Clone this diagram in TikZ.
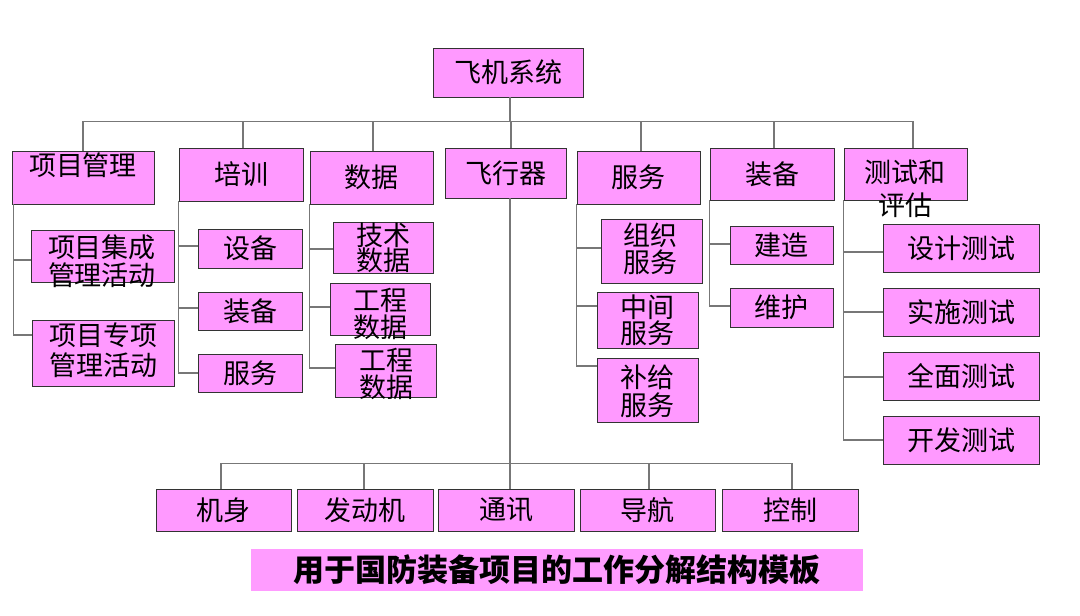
\documentclass[tikz,border=0pt]{standalone}
\usepackage{fontspec}
\setmainfont{Noto Sans CJK SC}
\definecolor{boxpink}{HTML}{FF99FF}
\definecolor{titlepink}{HTML}{FF9CFF}
\definecolor{linegray}{HTML}{777777}
\definecolor{edgegray}{HTML}{333333}
\tikzset{
  box/.style={draw=edgegray, line width=0.9pt, fill=boxpink, inner sep=0pt,
    font=\fontsize{27}{28}\selectfont},
  txt/.style={inner sep=0pt, align=center, font=\fontsize{27}{#1}\selectfont},
  txt/.default=27,
  conn/.style={draw=linegray, line width=1.2pt},
  titlebox/.style={fill=titlepink, draw=none, inner sep=0pt,
    minimum width=612, minimum height=42, font=\fontsize{31}{32}\selectfont\bfseries}
}
\begin{document}
\begin{tikzpicture}[x=1pt,y=-1pt]
\path[use as bounding box, fill=white] (0,0) rectangle (1080,616);

% root
\node[box, minimum width=150, minimum height=49] (root) at (508,72.5) {飞机系统};

% level 1
\node[box, minimum width=142, minimum height=53] (pm) at (83,177.5) {};
\node[txt] (pmt) at (83,165) {项目管理};
\node[box, minimum width=124, minimum height=53] (px) at (241,174.5) {培训};
\node[box, minimum width=123, minimum height=53] (sj) at (371.5,177.5) {数据};
\node[box, minimum width=121, minimum height=50] (fx) at (505.5,173) {飞行器};
\node[box, minimum width=123, minimum height=53] (fw) at (638.5,177.5) {服务};
\node[box, minimum width=124, minimum height=52] (zb) at (772,174) {装备};
\node[box, minimum width=123, minimum height=52] (cs) at (905.5,174) {};
\node[txt=33] (cst) at (905,189) {测试和\\评估};

% under 项目管理
\node[box, minimum width=143, minimum height=52] (pmA) at (102.5,256) {};
\node[txt=28] (pmAt) at (102,261) {项目集成\\管理活动};
\node[box, minimum width=142, minimum height=66] (pmB) at (103,353) {};
\node[txt=30] (pmBt) at (103,350) {项目专项\\管理活动};

% under 培训
\node[box, minimum width=104, minimum height=39] (pxA) at (250,248.5) {设备};
\node[box, minimum width=104, minimum height=38] (pxB) at (250,311) {装备};
\node[box, minimum width=104, minimum height=38] (pxC) at (250,373) {服务};

% under 数据
\node[box, minimum width=100, minimum height=51] (sjA) at (383,247.5) {};
\node[txt=25] (sjAt) at (383.5,248) {技术\\数据};
\node[box, minimum width=100, minimum height=52] (sjB) at (380,309) {};
\node[txt=27] (sjBt) at (380,313.5) {工程\\数据};
\node[box, minimum width=101, minimum height=53] (sjC) at (385.5,370.5) {};
\node[txt=27] (sjCt) at (386,373.5) {工程\\数据};

% under 服务
\node[box, minimum width=101, minimum height=64] (fwA) at (651.5,251) {};
\node[txt=27] (fwAt) at (650,248.5) {组织\\服务};
\node[box, minimum width=101, minimum height=56] (fwB) at (647.5,320) {};
\node[txt=26] (fwBt) at (647.5,320) {中间\\服务};
\node[box, minimum width=101, minimum height=64] (fwC) at (647.5,390) {};
\node[txt=28] (fwCt) at (647.5,391) {补给\\服务};

% under 装备
\node[box, minimum width=103, minimum height=38] (zbA) at (781.5,245) {建造};
\node[box, minimum width=103, minimum height=39] (zbB) at (781.5,307.5) {维护};

% under 测试和评估
\node[box, minimum width=156, minimum height=48] (csA) at (961,248) {设计测试};
\node[box, minimum width=156, minimum height=48] (csB) at (961,312) {实施测试};
\node[box, minimum width=156, minimum height=48] (csC) at (961,376) {全面测试};
\node[box, minimum width=156, minimum height=48] (csD) at (961,440) {开发测试};

% under 飞行器
\node[box, minimum width=135, minimum height=42] (b1) at (223.5,510) {机身};
\node[box, minimum width=136, minimum height=42] (b2) at (365,510) {发动机};
\node[box, minimum width=136, minimum height=42] (b3) at (506,510) {通讯};
\node[box, minimum width=135, minimum height=42] (b4) at (647.5,510) {导航};
\node[box, minimum width=136, minimum height=42] (b5) at (790,510) {控制};

% title
\node[titlebox] (title) at (557,570) {用于国防装备项目的工作分解结构模板};

% top bus
\foreach \n/\dx in {pm/0,px/2,sj/1.5,fx/5.5,fw/2.5,zb/2,cs/7.5}
  \draw[conn] ([xshift=2pt]root.south) -- ++(0,24) -| ([xshift=\dx pt]\n.north);

% 项目管理 branches
\draw[conn] ([xshift=2pt]pm.south west) |- ([yshift=-4pt]pmA.west);
\draw[conn] ([xshift=2pt]pm.south west) |- ([yshift=18pt]pmB.west);

% 培训 branches
\draw[conn] (px.south west) |- ([yshift=2.5pt]pxA.west);
\draw[conn] (px.south west) |- ([yshift=3pt]pxB.west);
\draw[conn] (px.south west) |- (pxC.west);

% 数据 branches
\draw[conn] (sj.south west) |- ([yshift=-1.5pt]sjA.west);
\draw[conn] (sj.south west) |- ([yshift=2pt]sjB.west);
\draw[conn] (sj.south west) |- ([yshift=2.5pt]sjC.west);

% 服务 branches
\draw[conn] (fw.south west) |- ([yshift=3pt]fwA.west);
\draw[conn] (fw.south west) |- ([yshift=14pt]fwB.west);
\draw[conn] (fw.south west) |- ([yshift=24pt]fwC.west);

% 装备 branches
\draw[conn] (zb.south west) |- ([yshift=1pt]zbA.west);
\draw[conn] (zb.south west) |- ([yshift=1.5pt]zbB.west);

% 测试和评估 branches
\draw[conn] (cs.south west) |- ([yshift=-4pt]csA.west);
\draw[conn] (cs.south west) |- (csB.west);
\draw[conn] (cs.south west) |- ([yshift=-1pt]csC.west);
\draw[conn] (cs.south west) |- (csD.west);

% bottom bus
\foreach \n/\dx in {b1/-2.5,b2/-1,b3/4,b4/1.5,b5/2}
  \draw[conn] ([xshift=4.5pt]fx.south) -- ++(0,265) -| ([xshift=\dx pt]\n.north);
\end{tikzpicture}
\end{document}
